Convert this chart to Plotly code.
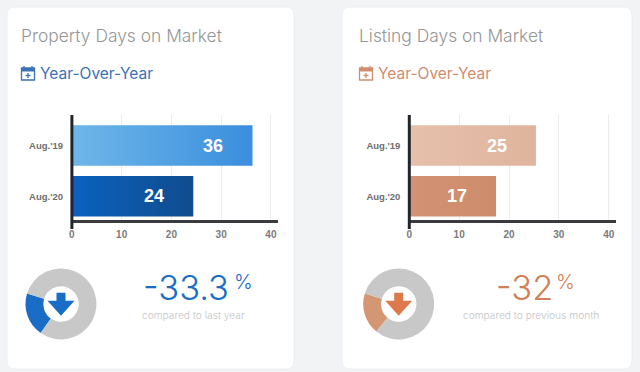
import json
import plotly.graph_objects as go

W, H = 640, 372
categories = ["Aug.'19", "Aug.'20"]
property_days = [36.3, 24.4]
property_labels = ["36", "24"]
listing_days = [25.4, 17.4]
listing_labels = ["25", "17"]
x_ticks = [0, 10, 20, 30, 40]
property_share = [20, 80]
listing_share = [19, 81]

BG = "#f2f3f5"
BLUE = "#1a6dc6"
BLUE_SUB = "#3b72b4"
ORANGE = "#d27f58"
ORANGE_SUB = "#d08d6e"
DARK = "#23252d"
FONT = "Inter"
AX = "Liberation Sans"

GRADS = [
    ("#6fb7e9", "#3a8ede"),
    ("#0a62bf", "#104c8e"),
    ("#e6c0ac", "#dfb49d"),
    ("#d29273", "#cd8d6d"),
]


def px(x):
    return x / W


def py(y):
    return 1 - y / H


def card(x0, x1, y0, y1, r=8):
    a, b, c, d = px(x0), px(x1), py(y0), py(y1)
    rx, ry = r / W, r / H
    return (
        f"M{a+rx},{c} L{b-rx},{c} Q{b},{c} {b},{c-ry} L{b},{d+ry} Q{b},{d} {b-rx},{d} "
        f"L{a+rx},{d} Q{a},{d} {a},{d+ry} L{a},{c-ry} Q{a},{c} {a+rx},{c} Z"
    )


def poly(points):
    return "M" + " L".join(f"{px(x)},{py(y)}" for x, y in points) + " Z"


fig = go.Figure()
shapes, annotations = [], []

panels = [
    dict(card=(7, 294), x0=71.9, x1=278, unit=4.975, vals=property_days, labels=property_labels,
         colors=["#549fe2", "#0c57a6"], xa="x", ya="y", title="Property Days on Market", title_x=19,
         main=BLUE, sub=BLUE_SUB, share=property_share, rot=215, cx=61, cy=304, pie=["#1a6dc6", "#c8c8c8"],
         arrow="#1a6dc6", icon=21, pct="-33.3", pct_x=141, sign_x=232, cmp="compared to last year", cmp_x=193),
    dict(card=(342, 632), x0=409.3, x1=616, unit=4.985, vals=listing_days, labels=listing_labels,
         colors=["#e2baa4", "#cf8f70"], xa="x2", ya="y2", title="Listing Days on Market", title_x=357,
         main=ORANGE, sub=ORANGE_SUB, share=listing_share, rot=219, cx=398.7, cy=304, pie=["#d59673", "#c8c8c8"],
         arrow="#dd7a4b", icon=359, pct="-32", pct_x=494, sign_x=554, cmp="compared to previous month", cmp_x=530.5),
]

layout_axes = {}
for i, p in enumerate(panels):
    suffix = "" if i == 0 else "2"
    fig.add_trace(go.Bar(
        y=categories, x=p["vals"], orientation="h", xaxis=p["xa"], yaxis=p["ya"],
        marker=dict(color=p["colors"], line=dict(width=0)), hoverinfo="skip", showlegend=False,
    ))
    layout_axes["xaxis" + suffix] = dict(
        domain=[px(p["x0"]), px(p["x1"])], range=[0, (p["x1"] - p["x0"]) / p["unit"]], automargin=False,
        anchor=p["ya"], tickvals=x_ticks, showgrid=True, gridcolor="#ececee", gridwidth=1,
        zeroline=False, showline=True, linecolor="#3a3a3f", linewidth=3,
        ticks="outside", ticklen=3, tickcolor="rgba(0,0,0,0)",
        tickfont=dict(family=AX, size=10, color="#7a7a7a", weight=700),
    )
    layout_axes["yaxis" + suffix] = dict(
        domain=[py(220), py(115)], range=[1.468, -0.603], anchor=p["xa"], type="category", automargin=False,
        showgrid=False, zeroline=False, showline=False, ticks="outside", ticklen=6,
        tickcolor="rgba(0,0,0,0)", tickfont=dict(family=AX, size=9.5, color="#6e6e6e", weight=700),
    )
    x_a, x_b = p["card"]
    shapes.append(dict(type="path", xref="paper", yref="paper", path=card(x_a, x_b, 7, 369), fillcolor="#ffffff",
                       line=dict(color="#eceef0", width=1), layer="below"))
    shapes.append(dict(type="line", xref="paper", yref="paper", x0=px(p["x0"]), x1=px(p["x0"]), y0=py(115), y1=py(229),
                       line=dict(color=DARK, width=3), layer="above"))
    for cat, v, lab in zip(categories, p["vals"], p["labels"]):
        annotations.append(dict(xref=p["xa"], yref=p["ya"], x=v, y=cat, text=f"<b>{lab}</b>", showarrow=False,
                                xshift=-39, font=dict(family=AX, size=18, color="#ffffff")))
    # title and sub-heading
    annotations.append(dict(xref="paper", yref="paper", x=px(p["title_x"]), y=py(35), xanchor="left", yanchor="middle",
                            text=p["title"], showarrow=False,
                            font=dict(family=FONT, size=17.4, color="#969696", weight=300)))
    annotations.append(dict(xref="paper", yref="paper", x=px(p["icon"] + 17), y=py(73), xanchor="left", yanchor="middle",
                            text="Year-Over-Year", showarrow=False,
                            font=dict(family=FONT, size=15.5, color=p["sub"], weight=400)))
    # calendar icon
    ix = p["icon"]
    shapes.append(dict(type="rect", xref="paper", yref="paper", x0=px(ix + .5), x1=px(ix + 13.5), y0=py(68), y1=py(80),
                       line=dict(color=p["sub"], width=1.3), fillcolor="rgba(0,0,0,0)", layer="above"))
    shapes.append(dict(type="rect", xref="paper", yref="paper", x0=px(ix + .5), x1=px(ix + 13.5), y0=py(68), y1=py(71.5),
                       line=dict(width=0), fillcolor=p["sub"], layer="above"))
    for a, b, c, d in [(ix + 3, ix + 3, 66, 69), (ix + 11, ix + 11, 66, 69),
                       (ix + 4.5, ix + 9.5, 75.5, 75.5), (ix + 7, ix + 7, 73, 78)]:
        shapes.append(dict(type="line", xref="paper", yref="paper", x0=px(a), x1=px(b), y0=py(c), y1=py(d),
                           line=dict(color=p["sub"], width=1.3), layer="above"))
    # donut
    R = 35.5
    fig.add_trace(go.Pie(
        values=p["share"], hole=0.5, sort=False, direction="clockwise", rotation=p["rot"],
        marker=dict(colors=p["pie"], line=dict(width=0)), textinfo="none", hoverinfo="skip", showlegend=False,
        domain=dict(x=[px(p["cx"] - R), px(p["cx"] + R)], y=[py(p["cy"] + R), py(p["cy"] - R)]),
    ))
    cx, cy = p["cx"], p["cy"]
    shapes.append(dict(type="path", xref="paper", yref="paper", layer="above", fillcolor=p["arrow"], line=dict(width=0),
                       path=poly([(cx - 4.5, cy - 11.3), (cx + 4.5, cy - 11.3), (cx + 4.5, cy - 3.3),
                                  (cx + 13.5, cy - 3.3), (cx, cy + 11.7), (cx - 13.5, cy - 3.3), (cx - 4.5, cy - 3.3)])))
    # percent readout
    annotations.append(dict(xref="paper", yref="paper", x=px(p["pct_x"]), y=py(287), xanchor="left", yanchor="middle",
                            text=p["pct"], showarrow=False,
                            font=dict(family=FONT, size=34.5, color=p["main"], weight=300)))
    annotations.append(dict(xref="paper", yref="paper", x=px(p["sign_x"]), y=py(282), xanchor="left", yanchor="middle",
                            text="%", showarrow=False,
                            font=dict(family=FONT, size=20, color=p["main"], weight=300)))
    annotations.append(dict(xref="paper", yref="paper", x=px(p["cmp_x"]), y=py(315), xanchor="center", yanchor="middle",
                            text=p["cmp"], showarrow=False,
                            font=dict(family=FONT, size=10.2, color="#c4c4c4", weight=300)))

fig.update_layout(
    width=W, height=H, autosize=False, margin=dict(l=0, r=0, t=0, b=0, autoexpand=False), paper_bgcolor=BG,
    plot_bgcolor="rgba(0,0,0,0)", bargap=0.2, shapes=shapes, annotations=annotations, **layout_axes,
)

post = """
document.documentElement.style.margin='0';document.body.style.margin='0';document.body.style.overflow='hidden';
document.body.style.background='%s';
var gd=document.getElementById('{plot_id}');var GR=%s;
gd.style.margin='0';gd.style.width='640px';
var sc=gd.querySelector('.svg-container');if(sc){sc.style.margin='0';}
function applyGrad(){
  var svg=gd.querySelector('svg.main-svg');var ns='http://www.w3.org/2000/svg';
  if(!document.getElementById('barg0')){
    var defs=document.createElementNS(ns,'defs');
    GR.forEach(function(g,i){var l=document.createElementNS(ns,'linearGradient');l.id='barg'+i;
      [[0,g[0]],[1,g[1]]].forEach(function(s){var st=document.createElementNS(ns,'stop');
        st.setAttribute('offset',s[0]);st.setAttribute('stop-color',s[1]);l.appendChild(st);});
      defs.appendChild(l);});
    svg.insertBefore(defs,svg.firstChild);
  }
  gd.querySelectorAll('.barlayer .point path').forEach(function(b,i){b.style.fill='url(#barg'+i+')';});
}
applyGrad();gd.on('plotly_afterplot',applyGrad);setTimeout(applyGrad,50);
""" % (BG, json.dumps(GRADS))

fig.write_html("out.html", config=dict(displayModeBar=False, responsive=False), post_script=post,
               default_width="640px", default_height="372px")
